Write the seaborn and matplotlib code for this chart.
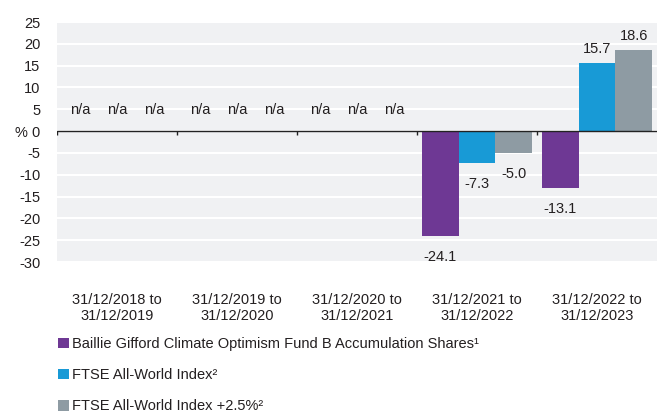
import numpy as np
import pandas as pd
import seaborn as sns
import matplotlib.pyplot as plt

# data (None = n/a)
periods = ["31/12/2018 to\n31/12/2019", "31/12/2019 to\n31/12/2020", "31/12/2020 to\n31/12/2021",
           "31/12/2021 to\n31/12/2022", "31/12/2022 to\n31/12/2023"]
series = ["Baillie Gifford Climate Optimism Fund B Accumulation Shares\u00b9",
          "FTSE All-World Index\u00b2",
          "FTSE All-World Index +2.5%\u00b2"]
fund = [None, None, None, -24.1, -13.1]
index = [None, None, None, -7.3, 15.7]
index_plus = [None, None, None, -5.0, 18.6]
yticks = [25, 20, 15, 10, 5, 0, -5, -10, -15, -20, -25, -30]
colors = ["#6e3894", "#189ad6", "#8e9ba3"]
text_col = "#231f20"

rows = []
for s, vals in zip(series, [fund, index, index_plus]):
    for p, v in zip(periods, vals):
        rows.append({"period": p, "series": s, "value": v})
df = pd.DataFrame(rows)
df["value"] = df["value"].astype(float)
# n/a slots drawn as zero-height bars so they can carry a label
df["plot_value"] = df["value"].fillna(0.0)

sns.set_style("white")
plt.rcParams["font.family"] = ["Liberation Sans", "DejaVu Sans"]
plt.rcParams["font.size"] = 10.5
plt.rcParams["text.color"] = text_col

fig = plt.figure(figsize=(6.57, 4.16), dpi=100)
ax = fig.add_axes([57 / 657, 1 - 262 / 416, 600 / 657, 240 / 416])
ax.set_facecolor("#f0f1f3")

sns.barplot(data=df, x="period", y="plot_value", hue="series", palette=colors,
            width=0.92, saturation=1, ax=ax, order=periods, hue_order=series,
            linewidth=0)

vals_by_series = [fund, index, index_plus]
for cont, vals in zip(ax.containers, vals_by_series):
    pos_labels = [f"{v:.1f}" if v is not None and v >= 0 else "" for v in vals]
    neg_labels = [f"{v:.1f}" if v is not None and v < 0 else "" for v in vals]
    na_labels = ["n/a" if v is None else "" for v in vals]
    ax.bar_label(cont, labels=pos_labels, padding=5, fontsize=10.5, color=text_col)
    ax.bar_label(cont, labels=neg_labels, padding=10, fontsize=10.5, color=text_col)
    ax.bar_label(cont, labels=na_labels, padding=10, fontsize=10.5, color=text_col)

ax.set_ylim(-30, 25)
ax.set_xlim(-0.5, 4.5)
ax.set_yticks(yticks)
ax.set_yticklabels(["% 0" if t == 0 else str(t) for t in yticks])
ax.yaxis.grid(True, color="white", lw=1.5)
ax.set_axisbelow(True)
ax.axhline(0, color="#222222", lw=1, zorder=3)
ax.vlines(np.arange(-0.5, 4.0, 1.0), -0.8, 0, color="#222222", lw=1, zorder=3)
ax.tick_params(axis="both", length=0, labelsize=10.5, colors=text_col)
ax.tick_params(axis="y", pad=12)
ax.tick_params(axis="x", pad=22)
ax.set_xlabel("")
ax.set_ylabel("")
for sp in ax.spines.values():
    sp.set_visible(False)

sns.move_legend(ax, "upper left", bbox_to_anchor=(58 / 657, 1 - 337 / 416),
                bbox_transform=fig.transFigure, frameon=False, title=None,
                handlelength=0.75, handleheight=0.75, handletextpad=0.2,
                labelspacing=1.18, borderaxespad=0, borderpad=0, fontsize=10.5)

fig.savefig("out.png", dpi=100)
